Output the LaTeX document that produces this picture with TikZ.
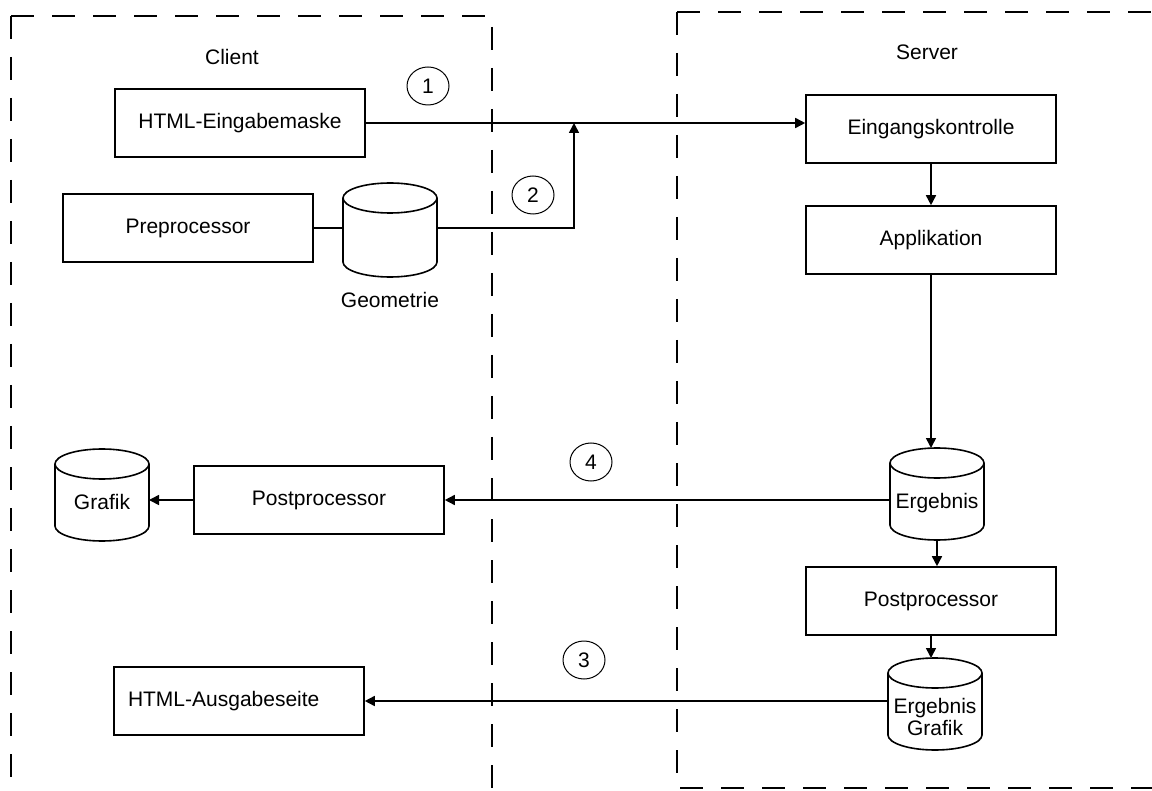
\documentclass[tikz,border=0pt]{standalone}
\usepackage{fontspec}
\setmainfont{Liberation Sans}
\usetikzlibrary{arrows.meta,shapes.geometric}

% outline of a data cylinder around a named node
\newcommand{\drumline}[1]{%
  \draw[boxline] ([yshift=-7.5pt]#1.north west) -- ([yshift=7.5pt]#1.south west)
    arc[start angle=180, end angle=360, x radius=23.5pt, y radius=7.5pt]
    -- ([yshift=-7.5pt]#1.north east)
    arc[start angle=0, end angle=360, x radius=23.5pt, y radius=7.5pt];}

\tikzset{
  every node/.style={font=\fontsize{10.5}{11}\selectfont},
  boxline/.style={line width=0.8pt},
  procbox/.style={draw, boxline, rectangle, minimum width=125pt, minimum height=34pt, inner sep=0pt},
  drum/.style={rectangle, inner sep=0pt, outer sep=0pt, minimum width=47pt, minimum height=46pt,
               text height=17pt, text depth=2.5pt},
  numtag/.style={draw, ellipse, line width=0.5pt, minimum width=21pt, minimum height=19pt, inner sep=0pt},
  zone/.style={line width=0.8pt, dash pattern=on 11.5pt off 9pt},
  flow/.style={line width=0.8pt, -{Triangle[length=5pt,width=5pt]}}
}

\begin{document}
\begin{tikzpicture}[x=0.5pt, y=-0.5pt]
  \path[use as bounding box] (0,0) rectangle (1152,791);
  \clip (0,0) rectangle (1152,791);

  % Bereiche
  \draw[zone] (11,16) -- (492,16) -- (492,800);
  \draw[zone] (11,16) -- (11,800);
  \draw[zone] (677,12) -- (1170,12);
  \draw[zone] (677,12) -- (677,788) -- (1170,788);
  \node (client) at (232,57) {Client};
  \node (server) at (927,52) {Server};

  % Client
  \node[procbox] (html) at (240,123) {HTML-Eingabemaske};
  \node[procbox] (pre) at (188,228) {Preprocessor};
  \node[drum, minimum height=47pt, label={[label distance=4pt]below:Geometrie}] (geo) at (390,230) {};
  \drumline{geo}
  \node[procbox] (post1) at (319,500) {Postprocessor};
  \node[drum] (graf) at (102,495) {Grafik};
  \drumline{graf}
  \node[procbox, text width=111pt, align=left, inner xsep=7pt] (aus) at (239,701) {HTML-Ausgabeseite};

  % Server
  \node[procbox] (ein) at (931,129) {Eingangskontrolle};
  \node[procbox] (app) at (931,240) {Applikation};
  \node[drum] (erg) at (937,494) {Ergebnis};
  \drumline{erg}
  \node[procbox] (post2) at (931,601) {Postprocessor};
  \node[drum, align=center, text height=34pt, text depth=2.5pt] (eg) at (935,704) {Ergebnis\\Grafik};
  \drumline{eg}

  % Nummern
  \node[numtag] (n1) at (428,86) {1};
  \node[numtag] (n2) at (533,195) {2};
  \node[numtag] (n4) at (591,462) {4};
  \node[numtag] (n3) at (584,660) {3};

  % Verbindungen
  \coordinate (join) at (574,123);
  \draw[flow] (html.east) -- (html.east -| ein.west);
  \draw[boxline] (pre.east) -- (pre.east -| geo.west);
  \draw[flow] (pre.east -| geo.east) -- (join |- pre.east) -- (join);
  \draw[flow] (ein.south) -- (app.north);
  \draw[flow] (app.south) -- (app.south |- erg.north);
  \draw[flow] (erg.south) -- (erg.south |- post2.north);
  \draw[flow] (post2.south) -- (post2.south |- eg.north);
  \draw[flow] (post1.east -| erg.west) -- (post1.east);
  \draw[flow] (post1.west) -- (post1.west -| graf.east);
  \draw[flow] (aus.east -| eg.west) -- (aus.east);
\end{tikzpicture}
\end{document}
